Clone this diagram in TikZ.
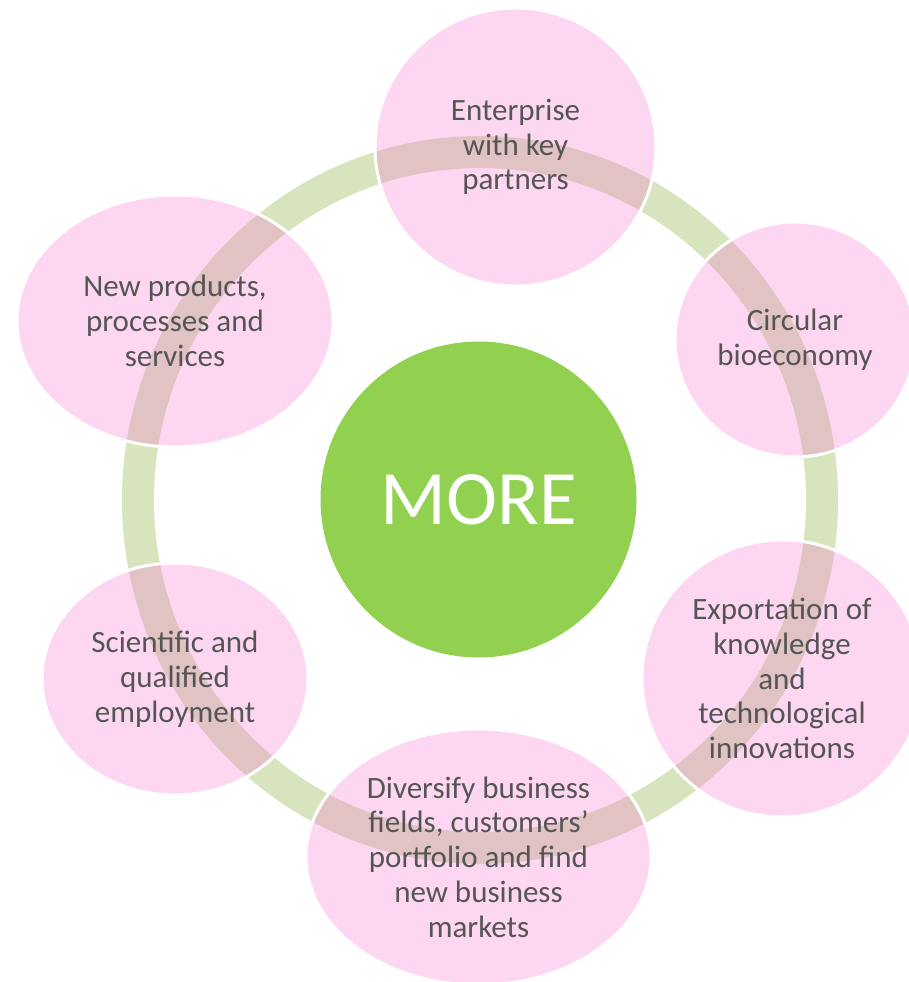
\documentclass[tikz,border=0pt]{standalone}
\usepackage{fontspec}
\setmainfont{Carlito}
\usetikzlibrary{shapes.geometric}
\definecolor{ringgreen}{HTML}{D7E4BD}
\definecolor{petal}{HTML}{F87AD0}
\definecolor{coregreen}{HTML}{92D050}
\definecolor{txtgray}{HTML}{555555}
\tikzset{
  petalnode/.style={ellipse, draw=white, line width=3pt, fill=petal, fill opacity=0.3,
    draw opacity=1, text opacity=1, inner sep=0pt, align=center, text=txtgray,
    font=\fontsize{31}{34.8}\selectfont},
  corenode/.style={circle, fill=coregreen, inner sep=0pt, minimum size=316pt,
    text=white, font=\fontsize{77}{80}\selectfont},
  ringline/.style={draw=ringgreen, line width=32pt}
}
\begin{document}
\begin{tikzpicture}[x=1pt,y=-1pt]
\useasboundingbox (0,0) rectangle (909,982);
\clip (0,0) rectangle (909,982);
% ring
\coordinate (rc) at (480,500);
\draw[ringline] (rc) ellipse [x radius=342, y radius=348];
% petals
\node[petalnode, minimum width=281pt, minimum height=278pt] (e1) at (515.5,147) {Enterprise\\with key\\partners};
\node[petalnode, minimum width=240pt, minimum height=235pt] (e2) at (795,339.5) {Circular\\bioeconomy};
\node[petalnode, minimum width=280pt, minimum height=277pt] (e3) at (782,678.5) {Exportation of\\knowledge\\and\\technological\\innovations};
\node[petalnode, minimum width=345pt, minimum height=256pt] (e4) at (478.5,857) {Diversify business\\fields, customers’\\portfolio and find\\new business\\markets};
\node[petalnode, minimum width=266pt, minimum height=232pt] (e5) at (175,679) {Scientific and\\qualified\\employment};
\node[petalnode, minimum width=316pt, minimum height=252pt] (e6) at (175,321) {New products,\\processes and\\services};
% core
\node[corenode] (c) at (478.5,499.5) {MORE};
\end{tikzpicture}
\end{document}
